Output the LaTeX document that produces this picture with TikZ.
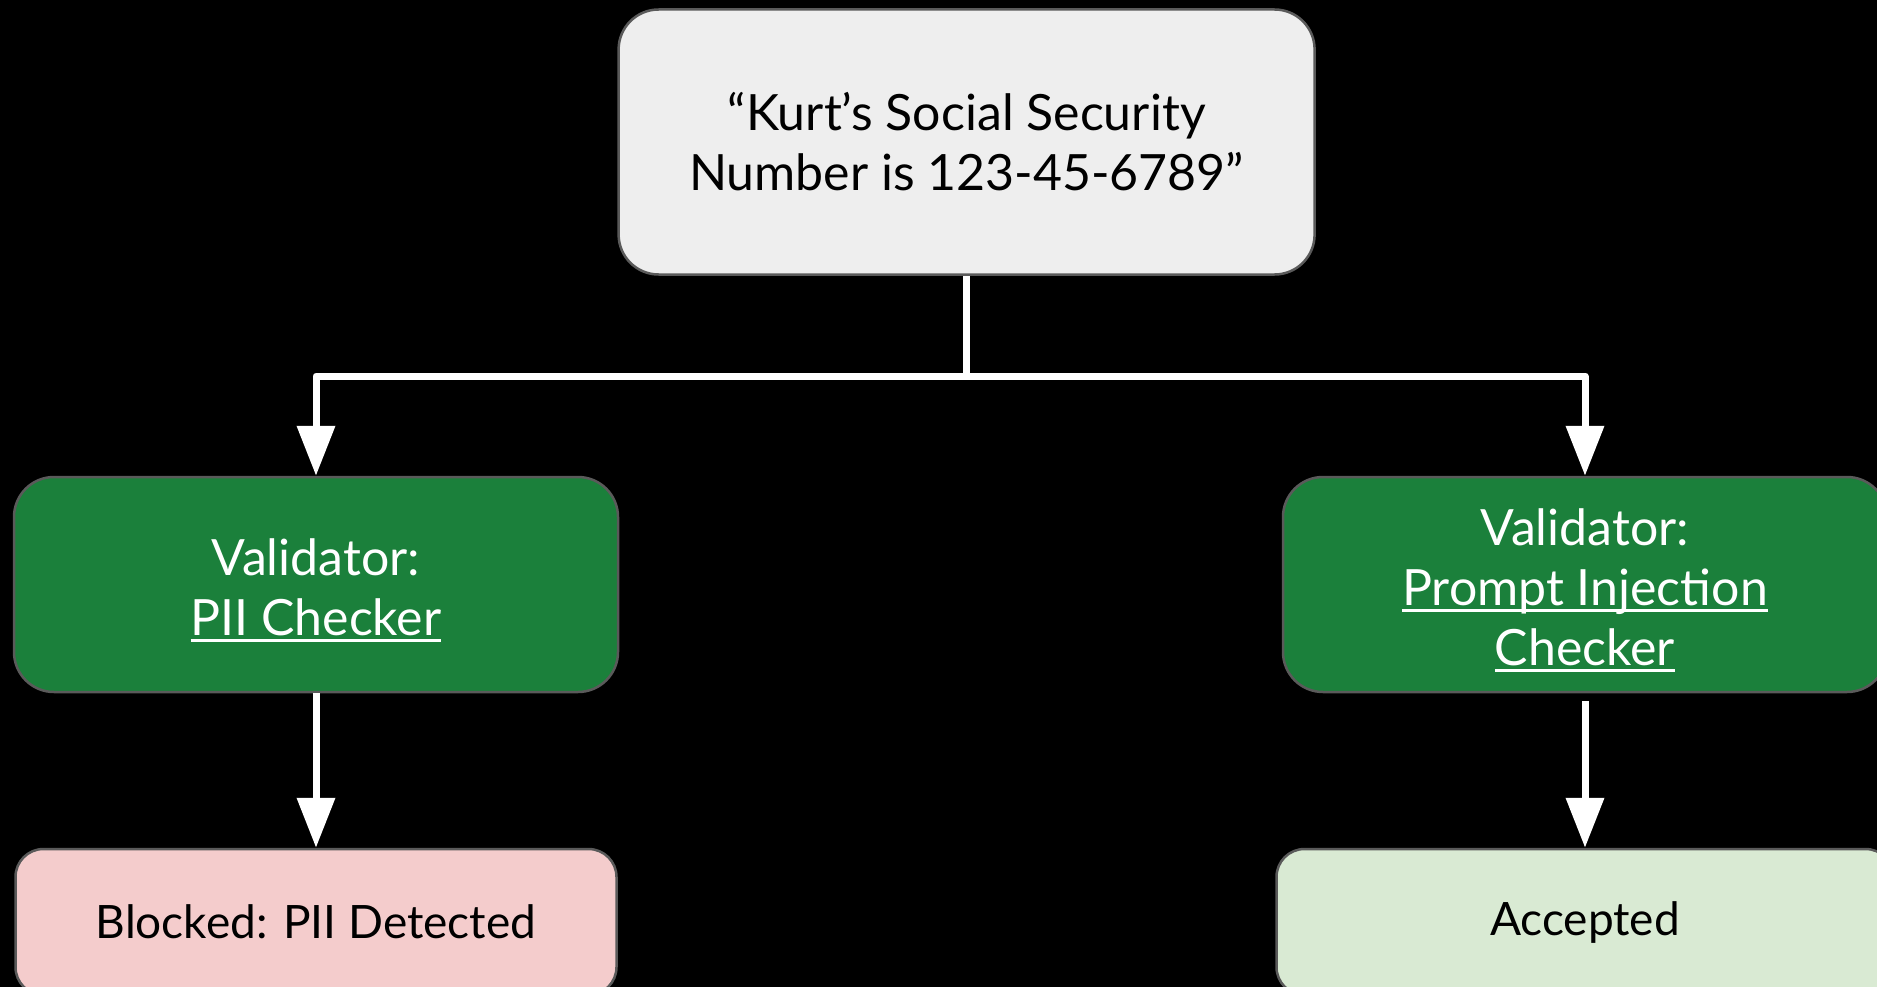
\documentclass[tikz,border=0pt]{standalone}
\usepackage{fontspec}
\setmainfont{Lato}
\usetikzlibrary{arrows.meta}
\definecolor{topfill}{HTML}{EEEEEE}
\definecolor{gfill}{HTML}{1B803B}
\definecolor{pinkfill}{HTML}{F4CCCC}
\definecolor{lgfill}{HTML}{D9EAD3}
\definecolor{edgegray}{HTML}{5A5A5A}
\newcommand{\ulin}[1]{\setbox0\hbox{#1}\rlap{\rule[-7pt]{\wd0}{3pt}}\box0}
\newcommand{\lowr}{\rule{0pt}{48pt}}
\begin{document}
\begin{tikzpicture}[x=1pt,y=-1pt,
  box/.style={draw=edgegray, line width=2.5pt, rounded corners=40pt, align=center,
    inner sep=0pt, font=\fontsize{50pt}{60pt}\selectfont},
  srcbox/.style={box, fill=topfill, text=black},
  valbox/.style={box, fill=gfill, text=white, minimum width=604pt, minimum height=215pt},
  resbox/.style={box, rounded corners=28pt, text=black, minimum height=146pt,
    font=\fontsize{46pt}{60pt}\selectfont},
  conn/.style={draw=white, line width=7pt, line join=round},
  arr/.style={conn, -{Triangle[width=37pt,length=50pt]}}
]
\useasboundingbox (0,0) rectangle (1877,987);
\fill[black] (0,0) rectangle (1877,987);

\node[srcbox, minimum width=696pt, minimum height=265pt] (src) at (966.6,142)
  {“Kurt’s Social Security\\Number is 123-45-6789”};

\node[valbox] (pii) at (316,584.5) {\lowr Validator:\\\ulin{PII Checker}};
\node[valbox] (inj) at (1585,584.5) {\lowr Validator:\\\ulin{Prompt Injection}\\\ulin{Checker}};

\node[resbox, fill=pinkfill, minimum width=601pt] (blk) at (316,922) {Blocked: PII Detected};
\node[resbox, fill=lgfill, minimum width=617pt] (acc) at (1585,922) {Accepted};

\coordinate (split) at (966.6,376);
\draw[conn] (src.south) -- (split);
\draw[arr] (split) -| (pii.north);
\draw[arr] (split) -| (inj.north);
\draw[arr] (pii.south) -- (blk.north);
\draw[arr] ([yshift=-8pt]inj.south) -- (acc.north);
\end{tikzpicture}
\end{document}
